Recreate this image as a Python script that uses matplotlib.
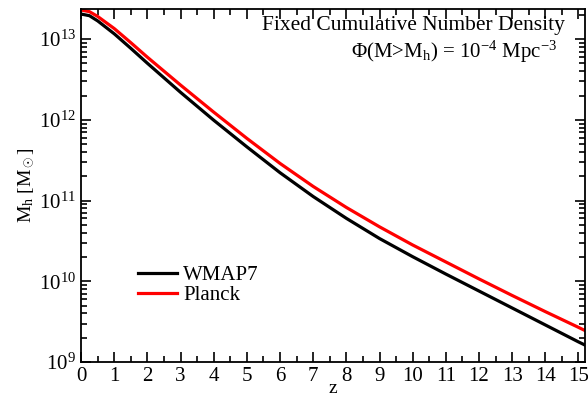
import matplotlib
matplotlib.use('Agg')
import matplotlib.pyplot as plt
from matplotlib.ticker import MultipleLocator, LogLocator, LogFormatterMathtext
import numpy as np

plt.rcParams['font.family'] = ['Liberation Serif', 'DejaVu Serif']
plt.rcParams['mathtext.fontset'] = 'custom'
plt.rcParams['mathtext.rm'] = 'Liberation Serif'
plt.rcParams['mathtext.it'] = 'Liberation Serif:italic'

# redshift and log10 halo mass
z = [0, 0.25, 0.5, 1, 1.5, 2, 3, 4, 5, 6, 7, 8, 9, 10, 11, 12, 13, 14, 15, 15.2]
logm_wmap7 = [13.31, 13.29, 13.225, 13.065, 12.885, 12.70, 12.34, 11.995, 11.665,
              11.345, 11.05, 10.78, 10.53, 10.305, 10.09, 9.88, 9.67, 9.46, 9.25, 9.21]
logm_planck = [13.36, 13.34, 13.28, 13.13, 12.955, 12.775, 12.43, 12.095, 11.77,
               11.46, 11.175, 10.915, 10.675, 10.45, 10.24, 10.03, 9.825, 9.625, 9.43, 9.39]

fig = plt.figure(figsize=(5.88, 3.97), dpi=100)
ax = fig.add_axes([0.138, 0.088, 0.857, 0.889])

ax.plot(z, 10**np.array(logm_wmap7), color='black', lw=2.3, label='WMAP7')
ax.plot(z, 10**np.array(logm_planck), color='red', lw=2.3, label='Planck')

ax.set_yscale('log')
ax.set_xlim(0, 15.2)
ax.set_ylim(1e9, 2.35e13)
ax.xaxis.set_major_locator(MultipleLocator(1))
ax.xaxis.set_minor_locator(MultipleLocator(0.5))
ax.yaxis.set_major_locator(LogLocator(base=10))
ax.yaxis.set_minor_locator(LogLocator(base=10, subs=np.arange(2, 10)))
ax.yaxis.set_major_formatter(LogFormatterMathtext())
ax.tick_params(which='both', direction='in', top=True, right=True, width=1.2)
ax.tick_params(which='major', length=7, labelsize=15)
ax.tick_params(which='minor', length=4)
for s in ax.spines.values():
    s.set_linewidth(1.3)

ax.set_xlabel('z', fontsize=14, labelpad=-4)
ax.set_ylabel(r'M$_\mathrm{h}$ [M$_\odot$]', fontsize=14, labelpad=2)

ax.text(0.96, 0.98, 'Fixed Cumulative Number Density', transform=ax.transAxes,
        ha='right', va='top', fontsize=15.5)
ax.text(0.945, 0.915, r'$\Phi$(M>M$_\mathrm{h}$) = 10$^{-4}$ Mpc$^{-3}$',
        transform=ax.transAxes, ha='right', va='top', fontsize=15)

ax.legend(loc='upper left', bbox_to_anchor=(0.076, 0.326), frameon=False,
          fontsize=15, handlelength=1.85, handletextpad=0.3, labelspacing=0.0)

fig.savefig('out.png', dpi=100)
